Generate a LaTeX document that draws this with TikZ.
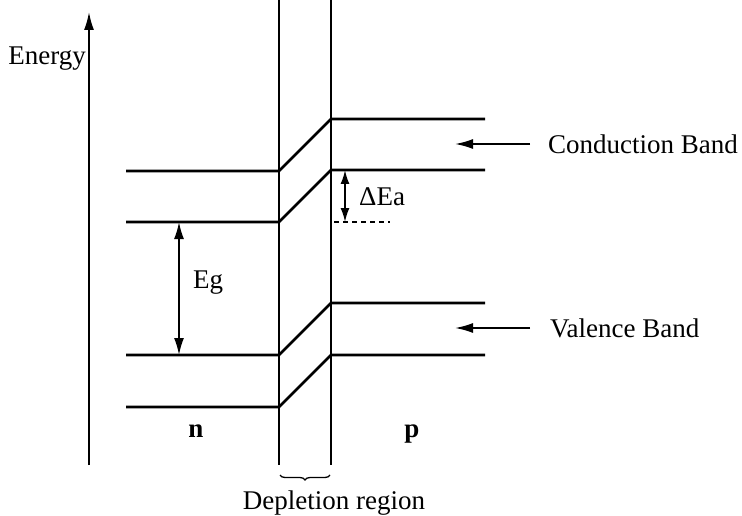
\documentclass[tikz,border=0pt]{standalone}
\usepackage{fontspec}
\setmainfont{Liberation Serif}
\usetikzlibrary{arrows.meta, positioning, decorations.pathreplacing}

\begin{document}
\begin{tikzpicture}[
    x=1pt, y=-1pt,
    font=\fontsize{27}{32}\selectfont,
    % styles
    band/.style={line width=2.6pt, line join=miter},
    wall/.style={line width=1.8pt},
    pointer/.style={line width=1.8pt, -{Latex[length=18pt, width=10pt]}},
    gap/.style={line width=1.8pt, {Latex[length=17pt, width=10pt]}-{Latex[length=17pt, width=10pt]}},
    label/.style={inner sep=0pt}
]
    \useasboundingbox (0,0) rectangle (742,516);

    % --- energy axis ---
    \coordinate (axbot) at (89,465);
    \coordinate (axtop) at (89,12);
    \draw [pointer] (axbot) -- (axtop);
    \node (energy) [label, anchor=base east] at (86,65) {Energy};

    % --- depletion walls ---
    \coordinate (wlt) at (279,0);
    \coordinate (wlb) at (279,465);
    \coordinate (wrt) at (331,0);
    \coordinate (wrb) at (331,465);
    \draw [wall] (wlt) -- (wlb);
    \draw [wall] (wrt) -- (wrb);

    % --- band edges, n side to p side ---
    \foreach \lvl [count=\i] in {171,222,355,407} {
        \coordinate (n\i) at (126,\lvl);
        \coordinate (j\i) at (279,\lvl);
        \coordinate (k\i) at (331,\lvl-52);
        \coordinate (p\i) at (485,\lvl-52);
        \draw [band] (n\i) -- (j\i) -- (k\i) -- (p\i);
    }

    % --- gap Eg ---
    \coordinate (egtop) at (179,222);
    \coordinate (egbot) at (179,355);
    \draw [gap] (egtop) -- (egbot);
    \node (eg) [label, anchor=west] at (193,283) {Eg};

    % --- offset dEa ---
    \coordinate (eatop) at (345,170);
    \coordinate (eabot) at (345,222);
    \coordinate (dl) at (334,222);
    \coordinate (dr) at (390,222);
    \draw [line width=1.3pt, dash pattern=on 5pt off 4pt] (dl) -- (dr);
    \draw [gap, {Latex[length=14pt, width=9pt]}-{Latex[length=14pt, width=9pt]}] (eatop) -- (eabot);
    \node (ea) [label, anchor=west] at (359,197) {ΔEa};

    % --- band names ---
    \node (cb) [label, anchor=west, inner xsep=18pt] at (530,144) {Conduction Band};
    \coordinate (cbtip) at (455,144);
    \draw [pointer] (cb.west) -- (cbtip);
    \node (vb) [label, anchor=west, inner xsep=20pt] at (530,328) {Valence Band};
    \coordinate (vbtip) at (455,328);
    \draw [pointer] (vb.west) -- (vbtip);

    % --- regions ---
    \node (nside) [label, anchor=base, font=\fontsize{27}{32}\selectfont\bfseries] at (196,437) {n};
    \node (pside) [label, anchor=base, font=\fontsize{27}{32}\selectfont\bfseries] at (412,437) {p};

    \coordinate (bl) at (280,475);
    \coordinate (br) at (330,475);
    \draw [line width=1.3pt, decorate, decoration={brace, amplitude=5pt, mirror}] (bl) -- (br);
    \node (depl) [label, anchor=base] at (334,509) {Depletion region};

\end{tikzpicture}
\end{document}
